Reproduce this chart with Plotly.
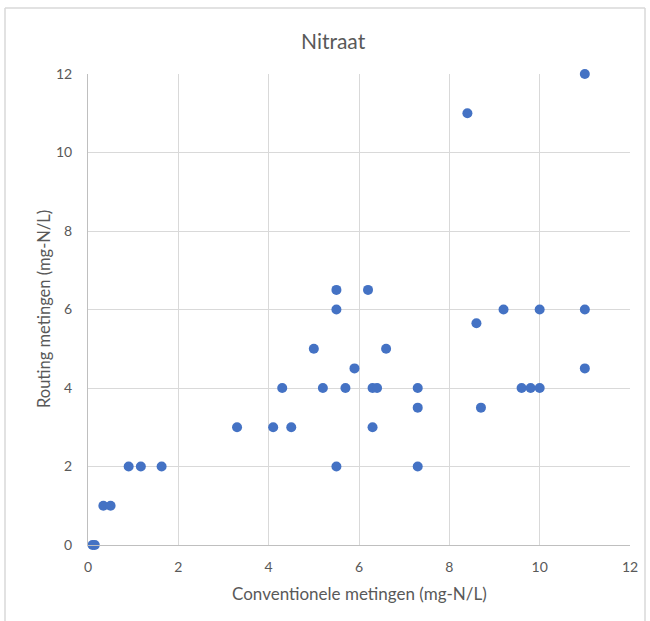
import plotly.graph_objects as go

conv = [0.1, 0.15, 0.34, 0.5, 0.9, 1.17, 1.63, 3.3, 4.1, 4.5, 4.3, 5.0, 5.2, 5.5, 5.5, 5.5,
        5.7, 5.9, 6.2, 6.3, 6.4, 6.3, 6.6, 7.3, 7.3, 7.3, 8.4, 8.6, 8.7, 9.2, 9.6, 9.8,
        10.0, 10.0, 11.0, 11.0, 11.0]
routing = [0, 0, 1, 1, 2, 2, 2, 3, 3, 3, 4, 5, 4, 6.5, 6, 2,
           4, 4.5, 6.5, 4, 4, 3, 5, 4, 3.5, 2, 11, 5.65, 3.5, 6, 4, 4,
           4, 6, 12, 6, 4.5]
tick_vals = [0, 2, 4, 6, 8, 10, 12]

W, H = 650, 621
L, R, T, B = 88, 20, 74, 76
pw, ph = W - L - R, H - T - B

def px(x):
    return (x - L) / pw

def py(y):
    return (H - B - y) / ph

font = "Lato, Open Sans, sans-serif"
grey = "#595959"

fig = go.Figure(go.Scatter(
    x=conv, y=routing, mode="markers",
    marker=dict(color="#4472C4", size=10, line=dict(width=0)),
    cliponaxis=False, showlegend=False))

axis_common = dict(range=[0, 12], tickvals=tick_vals, showgrid=True, gridcolor="#d9d9d9",
                   gridwidth=1, zeroline=False, showline=True, linecolor="#bfbfbf", linewidth=1,
                   ticks="", tickfont=dict(family=font, size=14, color=grey), fixedrange=True)

fig.update_layout(
    width=W, height=H, margin=dict(l=L, r=R, t=T, b=B),
    paper_bgcolor="white", plot_bgcolor="white",
    xaxis=dict(**axis_common, ticklabelstandoff=9),
    yaxis=dict(**axis_common, ticklabelstandoff=12),
    annotations=[
        dict(text="Nitraat", xref="paper", yref="paper", x=px(333), y=py(40),
             showarrow=False, xanchor="center", yanchor="middle",
             font=dict(family=font, size=21, color=grey)),
        dict(text="Conventionele metingen (mg-N/L)", xref="paper", yref="paper",
             x=px(359), y=py(593), showarrow=False, xanchor="center", yanchor="middle",
             font=dict(family=font, size=17, color=grey)),
        dict(text="Routing metingen (mg-N/L)", xref="paper", yref="paper",
             x=px(44), y=py(309), showarrow=False, xanchor="center", yanchor="middle",
             textangle=-90, font=dict(family=font, size=16.5, color=grey)),
    ],
    shapes=[
        dict(type="line", xref="paper", yref="paper", x0=px(5), x1=px(5), y0=py(8), y1=py(640),
             line=dict(color="#d9d9d9", width=1.5)),
        dict(type="line", xref="paper", yref="paper", x0=px(5), x1=px(645), y0=py(8), y1=py(8),
             line=dict(color="#d9d9d9", width=1.5)),
        dict(type="line", xref="paper", yref="paper", x0=px(645), x1=px(645), y0=py(8), y1=py(640),
             line=dict(color="#d9d9d9", width=1.5)),
    ],
)

fig.write_html("out.html", config={"displayModeBar": False},
               post_script="document.body.style.margin='0';document.body.style.overflow='hidden';")
